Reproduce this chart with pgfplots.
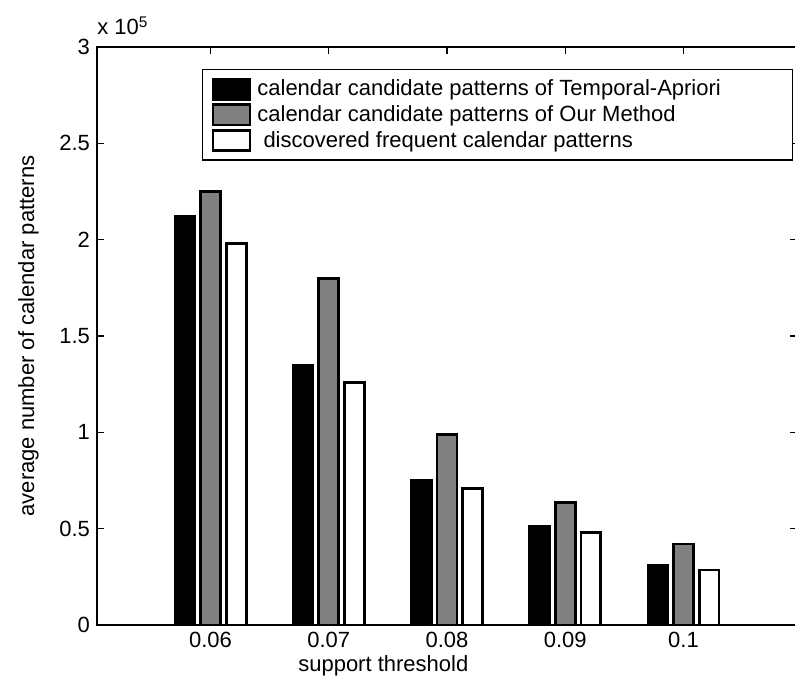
\documentclass[border=0pt]{standalone}
\usepackage{fontspec}
\setmainfont{Liberation Sans}
\usepackage{pgfplots}
\pgfplotsset{compat=1.18}
\definecolor{midgray}{HTML}{808080}

\pgfplotstableread{
x  apriori  ours   found
1  2.12     2.25   1.98
2  1.35     1.80   1.26
3  0.75     0.99   0.71
4  0.51     0.635  0.48
5  0.31     0.42   0.285
}\calendardata

\begin{document}
\begin{tikzpicture}
% picture frame = the reference crop (1px = 0.5pt)
\useasboundingbox (-48.5pt,-30.5pt) rectangle (349pt,312.5pt);
\clip (-48.5pt,-30.5pt) rectangle (349pt,312.5pt);
\begin{axis}[
    at={(0,0)}, anchor=south west,
    scale only axis,
    width=350pt, height=289pt,
    xmin=0.04, xmax=5.96,
    ymin=0, ymax=3,
    ybar,
    bar width=0.168,
    clip=false,
    font=\fontsize{11}{13}\selectfont,
    /pgf/number format/assume math mode=true,
    xtick={1,2,3,4,5},
    xticklabels={0.06,0.07,0.08,0.09,0.1},
    ytick={0,0.5,1,1.5,2,2.5,3},
    yticklabels={0,0.5,1,1.5,2,2.5,3},
    xtick pos=both, ytick pos=both,
    tick align=inside,
    major tick length=3.5pt,
    tick style={black, line width=0.6pt},
    axis line style={line width=0.7pt},
    xlabel={support threshold},
    ylabel={average number of calendar patterns},
    xlabel style={at={(axis description cs:0.409,-0.07)}, anchor=center},
    ylabel style={at={(axis description cs:-0.098,0.5)}, anchor=center},
    legend style={
        at={(axis description cs:0.15,0.962)}, anchor=north west,
        draw=black, line width=0.6pt,
        inner xsep=4.5pt, inner ysep=4pt,
        row sep=1.2pt, column sep=2pt,
        nodes={inner ysep=0.4pt, inner xsep=1pt},
        font=\fontsize{11}{12}\selectfont,
    },
    legend cell align=left,
    legend image code/.code={
        \draw[#1, line width=1.4pt] (0pt,-5pt) rectangle (18.5pt,5.2pt);
    },
]
\addplot[bar shift=-0.217, fill=black, draw=black, line width=1.4pt]
    table[x=x, y=apriori] {\calendardata};
\addplot[bar shift=0, fill=midgray, draw=black, line width=1.4pt]
    table[x=x, y=ours] {\calendardata};
\addplot[bar shift=0.217, fill=white, draw=black, line width=1.4pt]
    table[x=x, y=found] {\calendardata};
\legend{\makebox[262pt][l]{calendar candidate patterns of Temporal-Apriori},
        \makebox[262pt][l]{calendar candidate patterns of Our Method},
        \makebox[262pt][l]{ discovered frequent calendar patterns}}
\node[anchor=base west, yshift=6pt, inner sep=0pt] at (rel axis cs:0,1)
    {x 10\textsuperscript{5}};
\end{axis}
\end{tikzpicture}
\end{document}
